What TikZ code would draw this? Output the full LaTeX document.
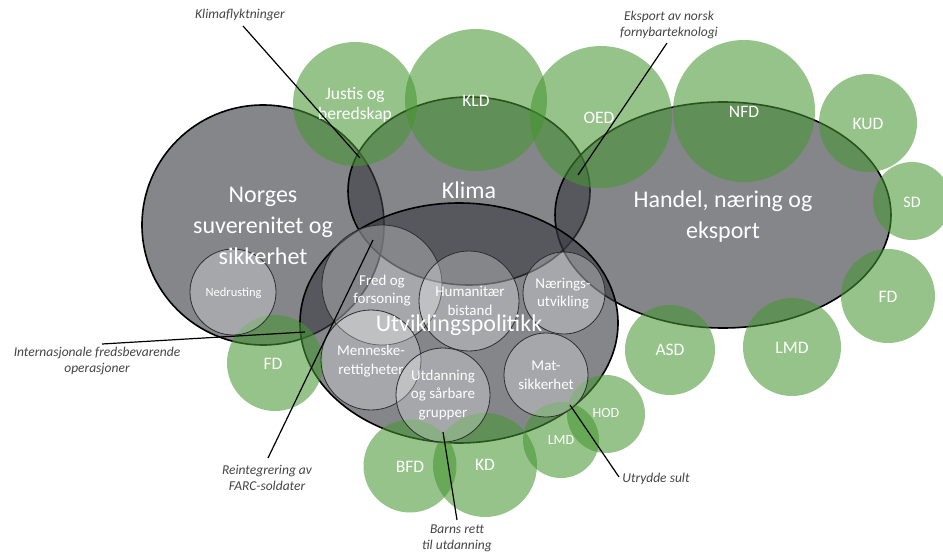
\documentclass[tikz,border=0pt]{standalone}
\usepackage{fontspec}
\setmainfont{Carlito}
\usetikzlibrary{shapes.geometric}
\definecolor{areagray}{RGB}{58,60,66}
\definecolor{deptgreen}{RGB}{70,150,50}
\definecolor{themeline}{RGB}{45,45,48}
\definecolor{notetext}{RGB}{68,68,70}
\begin{document}
\begin{tikzpicture}[x=1pt,y=-1pt,
  area/.style={ellipse, inner sep=0pt, fill=areagray, fill opacity=0.62, draw=black, line width=1.6pt},
  dept/.style={circle, inner sep=0pt, fill=deptgreen, fill opacity=0.57, draw=none},
  theme/.style={circle, inner sep=0pt, fill=white, fill opacity=0.28, draw=themeline, line width=0.8pt},
  bigtxt/.style={text=white, font=\fontsize{24}{31}\selectfont, align=center, inner sep=0pt},
  depttxt/.style={text=white, font=\fontsize{17.5}{19.5}\selectfont, align=center, inner sep=0pt},
  smalldept/.style={text=white, font=\fontsize{14}{16}\selectfont, align=center, inner sep=0pt},
  themetxt/.style={text=white, font=\fontsize{15}{18.7}\selectfont, align=center, inner sep=0pt},
  note/.style={text=notetext, font=\fontsize{13.5}{16.5}\selectfont\itshape, align=center, inner sep=0pt},
  link/.style={draw=black, line width=1.2pt}
]
\useasboundingbox (0,0) rectangle (943,554);

% policy areas
\node[area, minimum width=242pt, minimum height=240pt] (norges) at (263,225) {};
\node[area, minimum width=242pt, minimum height=188pt] (klima) at (469,191) {};
\node[area, minimum width=336pt, minimum height=226pt] (handel) at (723,215) {};
\node[area, minimum width=318pt, minimum height=240pt] (utvikling) at (459,323) {};

% ministries
\node[dept, minimum size=124pt] (justis) at (355,104) {};
\node[dept, minimum size=142pt] (kld) at (476,100) {};
\node[dept, minimum size=142pt] (oed) at (601,117) {};
\node[dept, minimum size=142pt] (nfd) at (744,111) {};
\node[dept, minimum size=98pt] (kud) at (868,123) {};
\node[dept, minimum size=78pt] (sd) at (912,201) {};
\node[dept, minimum size=94pt] (fdR) at (888,296) {};
\node[dept, minimum size=98pt] (lmdR) at (792,347) {};
\node[dept, minimum size=90pt] (asd) at (670,350) {};
\node[dept, minimum size=78pt] (hod) at (606,414) {};
\node[dept, minimum size=76pt] (lmdS) at (561,440) {};
\node[dept, minimum size=104pt] (kd) at (485,465) {};
\node[dept, minimum size=93pt] (bfd) at (410,466) {};
\node[dept, minimum size=96pt] (fdL) at (275,363) {};

% themes
\node[theme, minimum size=86pt] (nedrusting) at (233,292) {};
\node[theme, minimum size=120pt] (fred) at (382,285) {};
\node[theme, minimum size=100pt] (humanitaer) at (469,301) {};
\node[theme, minimum size=82pt] (naering) at (564,293) {};
\node[theme, minimum size=100pt] (menneske) at (371,360) {};
\node[theme, minimum size=94pt] (utdanning) at (443,395) {};
\node[theme, minimum size=84pt] (mat) at (546,375) {};

% theme labels
\node[themetxt] at (382,290.5) {Fred og\\forsoning};
\node[themetxt] at (470,301) {Humanitær\\bistand};
\node[themetxt] at (563,293.5) {Nærings-\\utvikling};
\node[themetxt] at (371,361) {Menneske-\\rettigheter};
\node[themetxt] at (443,395) {Utdanning\\og sårbare\\grupper};
\node[themetxt] at (546,375) {Mat-\\sikkerhet};
\node[text=white, font=\fontsize{12.5}{15}\selectfont, inner sep=0pt] at (233.5,293) {Nedrusting};

% area labels
\node[bigtxt] at (263,226) {Norges\\suverenitet og\\sikkerhet};
\node[bigtxt] at (469,190) {Klima};
\node[bigtxt] at (723,217) {Handel, næring og\\eksport};
\node[bigtxt] at (459,325) {Utviklingspolitikk};

% ministry labels
\node[depttxt] at (355,105) {Justis og\\beredskap};
\node[depttxt] at (476,101) {KLD};
\node[depttxt] at (599,118) {OED};
\node[depttxt] at (744,112) {NFD};
\node[depttxt] at (868,124) {KUD};
\node[depttxt, font=\fontsize{16}{18}\selectfont] at (912,202) {SD};
\node[depttxt] at (888,297) {FD};
\node[depttxt] at (792,348) {LMD};
\node[depttxt] at (670,350) {ASD};
\node[smalldept] at (606,413) {HOD};
\node[smalldept] at (561,440) {LMD};
\node[depttxt] at (485,465) {KD};
\node[depttxt] at (410,467) {BFD};
\node[depttxt] at (273,364) {FD};

% annotations
\node[note] (nKlima) at (240,15) {Klimaflyktninger};
\node[note] (nEksport) at (669,25) {Eksport av norsk\\fornybarteknologi};
\node[note] (nFred) at (97,361) {Internasjonale fredsbevarende\\operasjoner};
\node[note] (nFarc) at (267,478) {Reintegrering av\\FARC-soldater};
\node[note] (nBarn) at (457,538.5) {Barns rett\\til utdanning};
\node[note] (nSult) at (656,479) {Utrydde sult};

\coordinate (aKlima) at (243,26);
\coordinate (bKlima) at (360,158);
\coordinate (aEksport) at (667,43);
\coordinate (bEksport) at (578,175);
\coordinate (aFred) at (102,344);
\coordinate (bFred) at (305,332);
\coordinate (aFarc) at (268,458);
\coordinate (bFarc) at (373,240);
\coordinate (aBarn) at (457,520);
\coordinate (bBarn) at (443,432);
\coordinate (aSult) at (619,477);
\coordinate (bSult) at (570,405);

\draw[link] (aKlima) -- (bKlima);
\draw[link] (aEksport) -- (bEksport);
\draw[link] (aFred) -- (bFred);
\draw[link] (aFarc) -- (bFarc);
\draw[link] (aBarn) -- (bBarn);
\draw[link] (aSult) -- (bSult);
\end{tikzpicture}
\end{document}
